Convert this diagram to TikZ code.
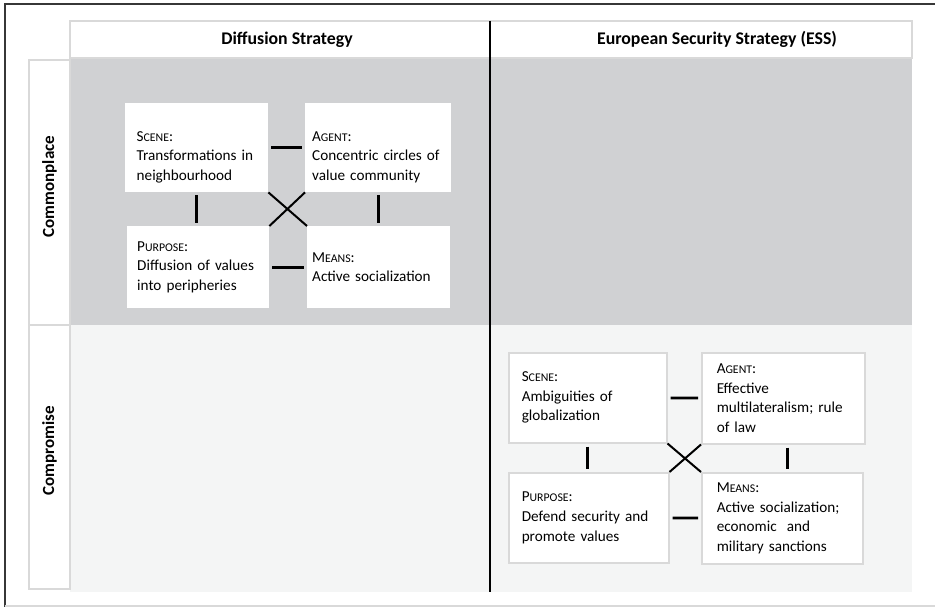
\documentclass[tikz,border=0pt]{standalone}
\usepackage{fontspec}
\setmainfont{Carlito}
\usetikzlibrary{positioning}

\definecolor{bandgray}{RGB}{208,209,211}
\definecolor{bandlight}{RGB}{244,245,245}
\definecolor{rulegray}{RGB}{217,217,217}
\definecolor{framegray}{RGB}{55,55,55}

% pentad label in small caps: first letter full size, rest smaller
\newcommand{\pentlabel}[2]{#1{\fontsize{11.8}{20}\selectfont #2}:}

\tikzset{
  headcell/.style={draw=rulegray, line width=1.5pt, fill=white, inner sep=0pt},
  headtext/.style={inner sep=0pt, font=\fontsize{17.8}{20}\selectfont\bfseries},
  rowtext/.style={inner sep=0pt, rotate=90, font=\fontsize{17}{20}\selectfont\bfseries},
  pentbox/.style={fill=white, align=left, anchor=north west, inner sep=0pt,
    font=\fontsize{15.2}{19.6}\selectfont},
  framedbox/.style={pentbox, draw=rulegray, line width=1.5pt},
  lowtext/.style={execute at begin node={\rule{0pt}{29pt}}},
  tie/.style={line width=2.6pt, shorten <=3pt, shorten >=3pt},
  cross/.style={line width=2pt},
}

\begin{document}
\begin{tikzpicture}[x=1pt, y=-1pt]
  \useasboundingbox (0,0) rectangle (935,607);

  % page frame
  \draw[framegray, line width=2pt] (4.5,607) -- (4.5,4.5) -- (935,4.5);
  \draw[rulegray, line width=1.2pt] (4.5,606) -- (935,606);

  % row bands
  \fill[bandgray] (70,58) rectangle (912,325);
  \fill[bandlight] (70,325) rectangle (912,592);

  % column heads
  \node[headcell, minimum width=420pt, minimum height=37pt] (hdiff) at (280,39.5) {};
  \node[headcell, minimum width=422pt, minimum height=37pt] (hess) at (701,39.5) {};
  \node[headtext] (tdiff) at ([xshift=7pt]hdiff.center) {Diffusion Strategy};
  \node[headtext] (tess) at ([xshift=16pt]hess.center) {European Security Strategy (ESS)};

  % row heads
  \node[headcell, minimum width=41pt, minimum height=265pt] (rcommon) at (49.5,192.5) {};
  \node[headcell, minimum width=41pt, minimum height=264pt] (rcomp) at (49.5,457) {};
  \node[rowtext] (tcommon) at ([yshift=6pt]rcommon.center) {Commonplace};
  \node[rowtext] (tcomp) at ([yshift=6pt]rcomp.center) {Compromise};

  % column divider
  \draw[line width=2pt] (490,21) -- (490,592);

  % pentad of the diffusion strategy
  \node[pentbox, lowtext, minimum width=143pt, minimum height=89pt, text width=120pt] (scene1) at (125,103)
    {\pentlabel{S}{CENE}\\Transformations in\\neighbourhood};
  \node[pentbox, lowtext, minimum width=146pt, minimum height=89pt, text width=132pt] (agent1) at (305,103)
    {\pentlabel{A}{GENT}\\Concentric circles of\\value community};
  \node[pentbox, minimum width=142pt, minimum height=82pt, text width=122pt] (purpose1) at (127,226)
    {\pentlabel{P}{URPOSE}\\Diffusion of values\\into peripheries};
  \node[pentbox, minimum width=143pt, minimum height=82pt, text width=133pt] (means1) at (307,226)
    {\pentlabel{M}{EANS}\\Active socialization};

  \draw[tie] (scene1) -- (agent1);
  \draw[tie] (purpose1) -- (means1);
  \draw[tie] (scene1.south) -- (scene1.south |- purpose1.north);
  \draw[tie] (agent1.south) -- (agent1.south |- means1.north);
  \draw[cross] (scene1.south east) -- (means1.north west);
  \draw[cross] (agent1.south west) -- (purpose1.north east);

  % pentad of the ESS
  \node[framedbox, minimum width=158pt, minimum height=90pt, text width=132pt] (scene2) at (508,352)
    {\pentlabel{S}{CENE}\\Ambiguities of\\globalization};
  \node[framedbox, minimum width=163pt, minimum height=91pt, text width=133pt] (agent2) at (701,352)
    {\pentlabel{A}{GENT}\\Effective\\multilateralism; rule\\of law};
  \node[framedbox, minimum width=160pt, minimum height=90pt, text width=134pt] (purpose2) at (508,472)
    {\pentlabel{P}{URPOSE}\\Defend security and\\promote values};
  \node[framedbox, minimum width=161pt, minimum height=91pt, text width=131pt] (means2) at (701,472)
    {\pentlabel{M}{EANS}\\Active socialization;\\economic~ and\\military sanctions};

  \draw[tie] (scene2) -- (agent2);
  \draw[tie] (purpose2) -- (means2);
  \draw[tie] (scene2.south) -- (scene2.south |- purpose2.north);
  \draw[tie] ([xshift=4pt]agent2.south) -- ([xshift=4pt]agent2.south |- means2.north);
  \draw[cross] (scene2.south east) -- (means2.north west);
  \draw[cross] (agent2.south west) -- (purpose2.north east);
\end{tikzpicture}
\end{document}
